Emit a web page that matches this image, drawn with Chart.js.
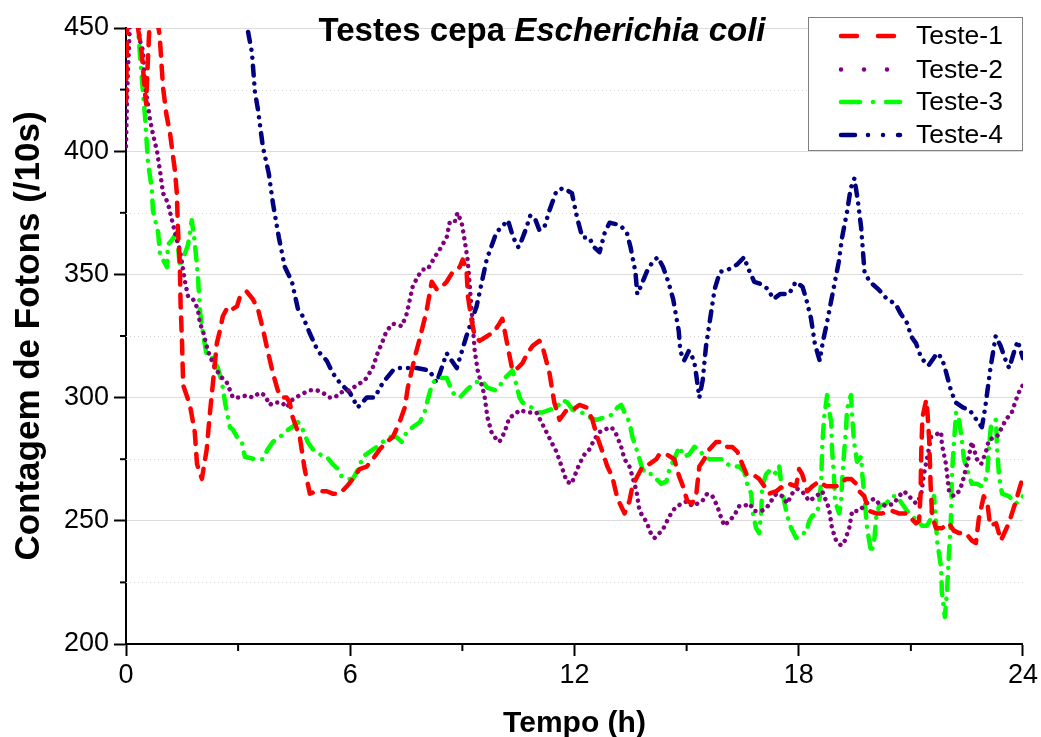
<!DOCTYPE html>
<html>
<head>
<meta charset="utf-8">
<script src="https://cdn.jsdelivr.net/npm/chart.js@4.4.1/dist/chart.umd.min.js"></script>
<style>
  html, body { margin: 0; padding: 0; background: #fff; }
  #wrap { width: 1041px; height: 737px; }
</style>
</head>
<body>
<div id="wrap"><canvas id="c" width="1041" height="737"></canvas></div>
<script>
// ---- Data (hours, photon counts per 10 s) ----
const seriesNames = ['Teste-1', 'Teste-2', 'Teste-3', 'Teste-4'];
const xTicks = [0, 6, 12, 18, 24];
const yTicks = [200, 250, 300, 350, 400, 450];

const teste1 = [[0,420],[0.03,450],[0.1,462],[0.28,462],[0.33,449],[0.42,440],[0.5,425],[0.54,419],[0.58,435],[0.63,452],[0.72,462],[0.82,455],[0.9,447],[0.99,426],[1.08,415],[1.18,407],[1.31,392],[1.36,383],[1.39,368],[1.44,355],[1.46,338],[1.5,322],[1.53,305],[1.71,297],[1.84,286],[1.9,273],[2.03,267],[2.16,279],[2.24,293],[2.32,305],[2.43,322],[2.51,327],[2.59,333],[2.73,337],[2.86,336],[2.97,337],[3.05,341],[3.23,343],[3.39,340],[3.53,336],[3.66,328],[3.79,319],[3.93,310],[4.06,303],[4.17,300],[4.3,300],[4.38,298],[4.46,292],[4.65,284],[4.78,271],[4.92,261],[5.1,262],[5.37,262],[5.53,261],[5.72,261],[5.91,264],[6.07,267],[6.25,271],[6.44,272],[6.6,275],[6.79,279],[6.97,282],[7.14,284],[7.32,290],[7.46,296],[7.54,304],[7.72,316],[7.86,324],[8.04,335],[8.18,347],[8.31,344],[8.39,344],[8.58,347],[8.74,351],[8.93,353],[9.01,356],[9.11,352],[9.15,341],[9.25,331],[9.33,325],[9.46,323],[9.67,325],[9.86,327],[9.99,330],[10.07,332],[10.21,321],[10.34,311],[10.48,312],[10.61,314],[10.74,318],[10.88,321],[11.06,323],[11.14,321],[11.33,310],[11.46,298],[11.6,291],[11.79,295],[11.95,295],[12.13,297],[12.32,296],[12.48,291],[12.61,284],[12.75,278],[12.88,272],[13.01,268],[13.15,259],[13.34,253],[13.47,258],[13.55,264],[13.68,268],[13.82,272],[14.0,273],[14.19,275],[14.27,277],[14.46,277],[14.67,275],[14.8,268],[14.88,265],[15.02,258],[15.15,257],[15.26,261],[15.34,272],[15.47,275],[15.61,279],[15.79,282],[15.95,282],[16.09,280],[16.22,280],[16.36,278],[16.49,273],[16.6,269],[16.76,269],[16.94,267],[17.08,264],[17.21,261],[17.4,262],[17.56,264],[17.74,265],[17.93,264],[18.01,271],[18.09,269],[18.23,262],[18.36,264],[18.55,266],[18.73,264],[19.0,264],[19.27,267],[19.4,267],[19.54,265],[19.62,262],[19.75,260],[19.88,254],[20.07,253],[20.23,253],[20.5,254],[20.68,253],[20.87,253],[21.0,251],[21.14,249],[21.22,250],[21.26,261],[21.28,279],[21.31,292],[21.41,299],[21.44,295],[21.49,283],[21.53,264],[21.57,252],[21.67,247],[21.83,247],[22.02,249],[22.15,246],[22.29,245],[22.47,245],[22.63,242],[22.74,241],[22.82,251],[22.95,260],[23.05,257],[23.12,248],[23.28,249],[23.41,242],[23.62,249],[23.81,258],[24.0,268]];

const teste2 = [[0,402],[0.03,422],[0.05,432],[0.12,456],[0.3,458],[0.37,445],[0.45,441],[0.51,427],[0.64,413],[0.72,407],[0.83,400],[0.91,392],[0.99,383],[1.12,379],[1.23,372],[1.36,364],[1.44,360],[1.58,347],[1.66,341],[1.79,340],[1.92,336],[1.98,330],[2.06,327],[2.19,319],[2.38,312],[2.57,308],[2.7,306],[2.86,300],[3.05,300],[3.23,301],[3.39,300],[3.58,302],[3.71,301],[3.85,297],[3.93,298],[4.17,298],[4.3,296],[4.44,299],[4.65,301],[4.92,303],[5.1,303],[5.26,302],[5.45,300],[5.59,300],[5.72,302],[5.99,303],[6.17,305],[6.39,307],[6.6,312],[6.73,318],[6.87,323],[6.97,327],[7.14,330],[7.38,329],[7.51,334],[7.67,345],[7.8,349],[7.94,352],[8.07,352],[8.26,357],[8.39,360],[8.58,365],[8.66,371],[8.79,371],[8.87,375],[8.98,371],[9.06,364],[9.14,356],[9.19,347],[9.33,319],[9.41,311],[9.59,301],[9.67,292],[9.78,286],[9.91,283],[9.99,282],[10.13,286],[10.26,292],[10.4,293],[10.53,295],[10.74,294],[10.98,294],[11.25,286],[11.38,282],[11.52,278],[11.68,271],[11.79,266],[11.92,265],[12.13,273],[12.27,277],[12.4,279],[12.53,283],[12.67,286],[12.8,287],[12.99,288],[13.12,285],[13.25,280],[13.34,275],[13.47,272],[13.55,268],[13.66,262],[13.74,254],[13.82,252],[13.95,249],[14.0,246],[14.14,243],[14.27,245],[14.35,246],[14.48,250],[14.62,254],[14.75,256],[14.88,257],[15.02,258],[15.15,256],[15.29,257],[15.42,258],[15.55,261],[15.69,260],[15.82,256],[15.93,251],[16.01,248],[16.14,250],[16.27,252],[16.41,256],[16.54,256],[16.68,257],[16.81,254],[17.0,254],[17.13,255],[17.26,258],[17.4,261],[17.56,260],[17.69,257],[17.82,261],[17.96,263],[18.09,262],[18.28,258],[18.47,260],[18.63,262],[18.81,255],[18.89,247],[19.0,242],[19.13,240],[19.21,241],[19.35,247],[19.43,254],[19.62,254],[19.8,257],[20.02,259],[20.15,257],[20.34,256],[20.55,257],[20.68,260],[20.82,262],[20.95,260],[21.14,257],[21.27,260],[21.35,269],[21.43,275],[21.54,284],[21.67,285],[21.81,286],[21.83,281],[21.94,273],[22.02,262],[22.15,260],[22.29,262],[22.37,265],[22.47,271],[22.55,276],[22.63,282],[22.77,275],[22.88,273],[23.01,278],[23.09,283],[23.3,284],[23.44,288],[23.54,291],[23.7,294],[23.81,299],[23.94,304],[24,305]];

const teste3 = [[0,480],[0.32,450],[0.4,434],[0.51,414],[0.59,395],[0.69,385],[0.72,376],[0.86,367],[0.91,358],[1.1,353],[1.12,362],[1.23,364],[1.36,367],[1.44,353],[1.52,356],[1.66,362],[1.76,372],[1.84,363],[1.92,350],[1.98,335],[2.06,326],[2.16,317],[2.32,316],[2.46,312],[2.57,306],[2.65,298],[2.78,288],[2.86,287],[2.97,284],[3.1,282],[3.18,276],[3.45,275],[3.66,275],[3.79,279],[3.93,282],[4.12,284],[4.25,286],[4.44,288],[4.6,290],[4.73,287],[4.86,282],[5.0,279],[5.18,277],[5.37,276],[5.53,273],[5.67,271],[5.77,268],[5.93,267],[6.07,267],[6.25,272],[6.33,276],[6.52,278],[6.71,280],[6.87,282],[7.06,284],[7.24,284],[7.38,282],[7.51,286],[7.67,288],[7.86,290],[7.99,294],[8.07,299],[8.2,306],[8.39,308],[8.58,308],[8.74,302],[8.93,300],[9.11,303],[9.33,306],[9.51,307],[9.67,304],[9.86,303],[9.99,304],[10.07,307],[10.21,309],[10.34,311],[10.45,305],[10.53,300],[10.61,298],[10.85,296],[11.01,294],[11.14,294],[11.33,295],[11.52,296],[11.68,299],[11.81,298],[11.95,295],[12.19,294],[12.4,292],[12.59,291],[12.8,292],[12.99,293],[13.15,296],[13.25,297],[13.34,294],[13.47,290],[13.55,284],[13.66,279],[13.74,275],[13.82,271],[13.92,269],[14.06,269],[14.19,267],[14.32,265],[14.46,266],[14.54,271],[14.67,275],[14.8,280],[14.94,276],[15.07,277],[15.21,280],[15.34,279],[15.47,276],[15.61,275],[15.79,275],[15.95,275],[16.09,273],[16.22,272],[16.41,272],[16.54,270],[16.62,265],[16.73,261],[16.76,254],[16.86,247],[16.94,245],[17.0,254],[17.02,264],[17.13,269],[17.26,271],[17.4,269],[17.48,272],[17.53,265],[17.61,258],[17.69,252],[17.8,247],[17.93,243],[18.07,245],[18.2,245],[18.28,250],[18.36,252],[18.49,253],[18.55,258],[18.6,266],[18.63,281],[18.68,292],[18.76,301],[18.81,295],[18.87,290],[18.89,279],[18.94,269],[18.97,258],[19.08,253],[19.13,257],[19.16,266],[19.21,277],[19.27,288],[19.29,295],[19.35,299],[19.4,301],[19.43,292],[19.48,282],[19.56,274],[19.67,276],[19.7,269],[19.75,261],[19.83,247],[19.94,237],[20.02,242],[20.07,251],[20.15,256],[20.34,257],[20.5,260],[20.63,260],[20.76,257],[20.9,254],[21.03,252],[21.17,250],[21.3,248],[21.43,248],[21.54,251],[21.57,257],[21.62,260],[21.67,250],[21.7,242],[21.81,231],[21.83,221],[21.91,211],[21.97,222],[22.02,237],[22.07,250],[22.1,269],[22.15,281],[22.21,294],[22.29,291],[22.37,282],[22.42,275],[22.5,271],[22.63,265],[22.77,265],[22.9,264],[23.04,268],[23.09,280],[23.14,288],[23.17,290],[23.28,291],[23.3,281],[23.36,268],[23.44,261],[23.62,260],[23.81,257],[23.89,258],[24,260]];

const teste4 = [[3.12,462],[3.26,449],[3.37,440],[3.45,424],[3.53,417],[3.66,402],[3.82,391],[3.93,379],[4.09,365],[4.25,353],[4.44,347],[4.6,336],[4.73,333],[4.92,326],[5.13,319],[5.37,315],[5.53,310],[5.72,306],[5.99,302],[6.2,296],[6.44,300],[6.65,300],[6.87,306],[7.14,311],[7.32,312],[7.78,312],[8.12,311],[8.31,306],[8.58,318],[8.85,312],[9.11,325],[9.38,337],[9.65,356],[9.91,367],[10.22,372],[10.36,365],[10.5,361],[10.59,364],[10.69,368],[10.82,374],[10.96,372],[11.06,368],[11.19,369],[11.33,376],[11.52,384],[11.7,385],[11.93,383],[12.07,373],[12.21,365],[12.39,365],[12.53,361],[12.67,359],[12.81,367],[12.94,371],[13.22,370],[13.4,367],[13.5,361],[13.63,351],[13.68,342],[13.77,345],[13.96,352],[14.09,355],[14.23,357],[14.37,353],[14.51,347],[14.64,340],[14.79,327],[14.83,319],[14.93,315],[15.06,319],[15.2,315],[15.25,310],[15.34,300],[15.43,307],[15.52,321],[15.61,330],[15.75,344],[15.89,351],[16.12,352],[16.35,354],[16.54,357],[16.63,353],[16.81,347],[17.0,346],[17.18,344],[17.32,340],[17.5,342],[17.74,342],[17.92,347],[18.1,345],[18.2,340],[18.33,332],[18.43,322],[18.56,315],[18.65,323],[18.75,330],[18.89,341],[19.07,355],[19.16,365],[19.3,376],[19.39,385],[19.49,389],[19.58,380],[19.67,369],[19.76,351],[19.9,347],[20.13,344],[20.36,340],[20.59,338],[20.73,334],[20.91,330],[21.0,325],[21.14,322],[21.28,316],[21.47,313],[21.7,318],[21.83,316],[21.93,311],[22.07,303],[22.2,298],[22.39,296],[22.57,295],[22.71,292],[22.9,288],[22.99,296],[23.13,312],[23.27,325],[23.4,321],[23.54,315],[23.63,312],[23.77,319],[23.86,323],[24.0,316]];

// ---- Styles ----
const FONT = "'Liberation Sans', Arial, Helvetica, sans-serif";
const colors = ['#ff0000', '#800080', '#00ff00', '#000080'];
const plotDash = [[13, 10], [0.01, 7], [13, 9, 0.01, 9], [10, 8, 0.01, 8, 0.01, 8]];
const plotWidth = [4.5, 4.5, 4.5, 4.5];
const legendDash = [[16, 21], [0.01, 23], [19, 13, 0.01, 13], [14, 13, 0.01, 15, 0.01, 15]];

const seriesData = [teste1, teste2, teste3, teste4];

const datasets = seriesData.map((pts, i) => ({
  label: seriesNames[i],
  data: pts.map(p => ({x: p[0], y: p[1]})),
  borderColor: colors[i],
  backgroundColor: colors[i],
  borderWidth: plotWidth[i],
  borderDash: plotDash[i],
  borderCapStyle: 'round',
  borderJoinStyle: 'round',
  pointRadius: 0,
  tension: 0,
  fill: false
}));

const decorPlugin = {
  id: 'decor',
  beforeDatasetsDraw(chart) {
    const {ctx, chartArea: a, scales: {y}} = chart;
    ctx.save();
    ctx.strokeStyle = '#d4d4d4';
    ctx.lineWidth = 1;
    ctx.setLineDash([1, 3]);
    for (let v = 225; v < 450; v += 50) {
      const py = Math.round(y.getPixelForValue(v)) + 0.5;
      ctx.beginPath(); ctx.moveTo(a.left, py); ctx.lineTo(a.right, py); ctx.stroke();
    }
    ctx.restore();
  },
  afterDraw(chart) {
    const {ctx, chartArea: a, scales: {x, y}} = chart;
    ctx.save();
    // minor ticks
    ctx.strokeStyle = '#000';
    ctx.lineWidth = 2;
    for (let v = 225; v < 450; v += 50) {
      const py = y.getPixelForValue(v);
      ctx.beginPath(); ctx.moveTo(a.left, py); ctx.lineTo(a.left - 6, py); ctx.stroke();
    }
    for (let h = 3; h < 24; h += 6) {
      const px = x.getPixelForValue(h);
      ctx.beginPath(); ctx.moveTo(px, a.bottom); ctx.lineTo(px, a.bottom + 7); ctx.stroke();
    }
    // title with italic species name
    const t1 = 'Testes cepa ';
    const t2 = 'Escherichia coli';
    const fs = 33;
    ctx.fillStyle = '#000';
    ctx.textBaseline = 'alphabetic';
    ctx.font = 'bold ' + fs + 'px ' + FONT;
    const w1 = ctx.measureText(t1).width;
    ctx.font = 'italic bold ' + fs + 'px ' + FONT;
    const w2 = ctx.measureText(t2).width;
    const cx = 542;
    let sx = cx - (w1 + w2) / 2;
    ctx.font = 'bold ' + fs + 'px ' + FONT;
    ctx.textAlign = 'left';
    ctx.fillText(t1, sx, 41);
    ctx.font = 'italic bold ' + fs + 'px ' + FONT;
    ctx.fillText(t2, sx + w1, 41);
    // legend
    const bx = 808.5, by = 17.5, bw = 214, bh = 133;
    ctx.fillStyle = '#fff';
    ctx.fillRect(bx, by, bw, bh);
    ctx.strokeStyle = '#808080';
    ctx.lineWidth = 1;
    ctx.setLineDash([]);
    ctx.strokeRect(bx, by, bw, bh);
    const rowsY = [36, 69.5, 102, 135];
    ctx.font = '26.5px ' + FONT;
    ctx.textBaseline = 'middle';
    for (let i = 0; i < 4; i++) {
      ctx.save();
      ctx.strokeStyle = colors[i];
      ctx.lineWidth = 4.5;
      ctx.lineCap = 'round';
      ctx.setLineDash(legendDash[i]);
      ctx.beginPath(); ctx.moveTo(841, rowsY[i]); ctx.lineTo(900, rowsY[i]); ctx.stroke();
      ctx.restore();
      ctx.fillStyle = '#000';
      ctx.fillText(seriesNames[i], 916, rowsY[i] + 1);
    }
    ctx.restore();
  }
};

new Chart(document.getElementById('c'), {
  type: 'line',
  data: { datasets },
  plugins: [decorPlugin],
  options: {
    responsive: false,
    animation: false,
    events: [],
    layout: { padding: { left: 0, right: 17, top: 28, bottom: 0 } },
    plugins: { legend: { display: false }, title: { display: false }, tooltip: { enabled: false } },
    scales: {
      x: {
        type: 'linear', min: 0, max: 24,
        afterBuildTicks: s => { s.ticks = xTicks.map(v => ({value: v})); },
        ticks: { font: { size: 27, family: FONT }, color: '#000', padding: 3, maxRotation: 0, autoSkip: false },
        grid: { drawOnChartArea: false, tickLength: 12, tickWidth: 2, tickColor: '#000' },
        border: { color: '#000', width: 2 },
        title: { display: true, text: 'Tempo (h)', color: '#000', font: { size: 30, weight: 'bold', family: FONT, lineHeight: 0.8 }, padding: { top: 0, bottom: 1 } },
        afterFit: s => { s.height = 93; }
      },
      y: {
        min: 200, max: 450,
        afterBuildTicks: s => { s.ticks = yTicks.map(v => ({value: v})); },
        ticks: { font: { size: 27, family: FONT }, color: '#000', padding: 5, autoSkip: false },
        grid: { color: '#dcdcdc', lineWidth: 1, tickLength: 12, tickWidth: 2, tickColor: '#000' },
        border: { color: '#000', width: 2 },
        title: { display: true, text: 'Contagem de Fotons (/10s)', color: '#000', font: { size: 35, weight: 'bold', family: FONT, lineHeight: 1.2 }, padding: { top: 8, bottom: 0 } },
        afterFit: s => { s.width = 126; }
      }
    }
  }
});
</script>
</body>
</html>
